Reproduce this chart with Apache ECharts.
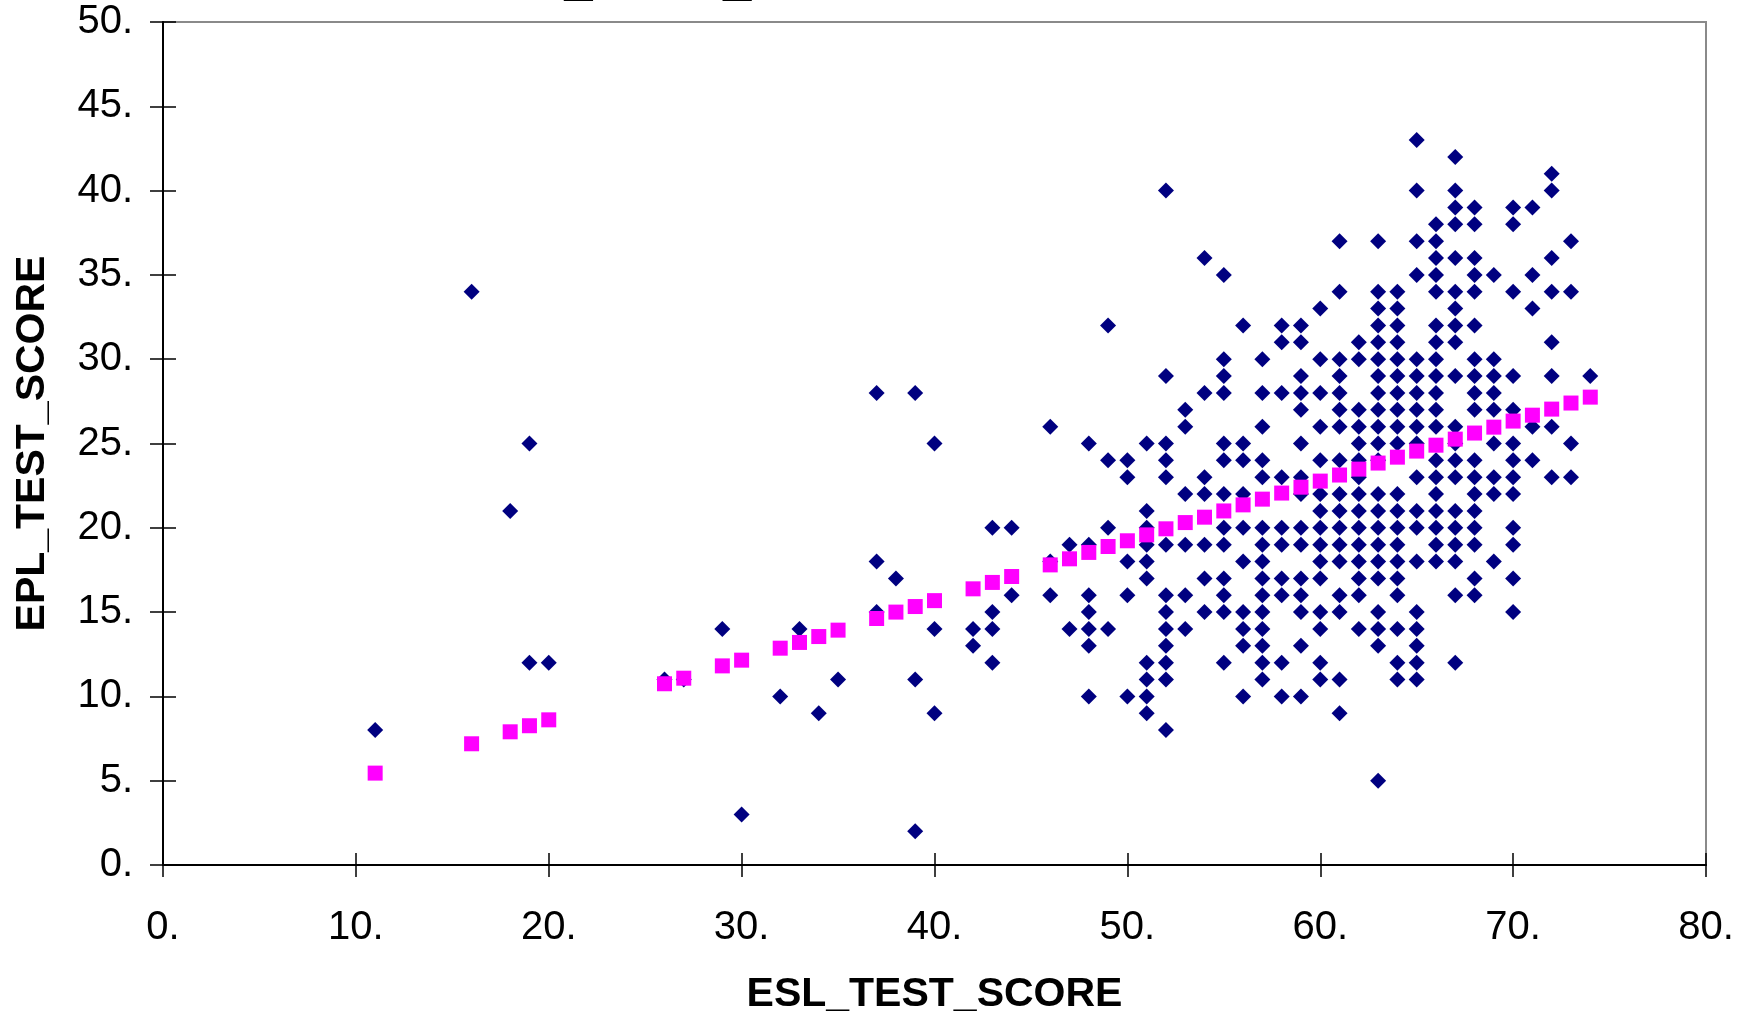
<!DOCTYPE html>
<html>
<head>
<meta charset="utf-8">
<script src="https://cdn.jsdelivr.net/npm/echarts@6/dist/echarts.min.js"></script>
<style>
html,body{margin:0;padding:0;background:#fff;}
#chart{width:1752px;height:1018px;}
</style>
</head>
<body>
<div id="chart"></div>
<script>
// Observed scores: one ESL score per column, with the EPL scores seen at it
var columnEsl = [11,16,18,19,20,26,27,29,30,32,33,34,35,37,38,39,40,42,43,44,46,47,48,49,50,
  51,52,53,54,55,56,57,58,59,60,61,62,63,64,65,66,67,68,69,70,71,72,73,74];
var columnEpl = [
  [8],
  [34],
  [21],
  [25,12],
  [12],
  [11],
  [11],
  [14],
  [3],
  [10],
  [14],
  [9],
  [11],
  [28,18,15],
  [17],
  [28,11,2],
  [25,14,9],
  [14,13],
  [20,15,14,12],
  [20,16],
  [26,18,16],
  [19,14],
  [25,19,16,15,14,13,10],
  [32,24,20,14],
  [24,23,18,16,10],
  [25,21,20,19,18,17,12,11,10,9],
  [40,29,25,24,23,19,16,15,14,13,12,11,8],
  [27,26,22,19,16,14],
  [36,28,23,22,19,17,15],
  [35,30,29,28,25,24,22,20,19,17,16,15,12],
  [32,25,24,22,20,18,15,14,13,10],
  [30,28,26,24,23,20,19,18,17,16,15,14,13,12,11],
  [32,31,28,23,20,19,17,16,12,10],
  [32,31,29,28,27,25,23,22,20,19,17,16,15,13,10],
  [33,30,28,26,24,22,21,20,19,18,17,15,14,12,11],
  [37,34,30,29,28,27,26,24,22,21,20,19,18,16,15,11,9],
  [31,30,27,26,25,24,23,22,21,20,19,18,17,16,14],
  [37,34,33,32,31,30,29,28,27,26,25,24,22,21,20,19,18,17,15,14,13,5],
  [34,33,32,31,30,29,28,27,26,25,22,21,20,19,18,17,16,14,12,11],
  [43,40,37,35,30,29,28,27,26,25,23,21,20,18,15,14,13,12,11],
  [38,37,36,35,34,32,31,30,29,28,27,26,24,23,22,21,20,19,18],
  [42,40,39,38,36,34,33,32,31,29,26,25,24,23,21,20,19,18,16,12],
  [39,38,36,35,34,32,30,29,28,27,24,23,22,21,20,19,17,16],
  [35,30,29,28,27,25,23,22,18],
  [39,38,34,29,27,25,24,23,22,20,19,17,15],
  [39,35,33,26,24],
  [41,40,36,34,31,29,26,23],
  [37,34,25,23],
  [29]
];

// Predicted EPL score at each ESL score
var predictedEsl = [11,16,18,19,20,26,27,29,30,32,33,34,35,37,38,39,40,42,43,44,46,47,48,49,50,
  51,52,53,54,55,56,57,58,59,60,61,62,63,64,65,66,67,68,69,70,71,72,73,74];
var predictedEpl = [5.45,7.19,7.9,8.26,8.61,10.75,11.08,11.81,12.15,12.86,13.2,13.55,13.93,14.62,15.0,15.33,15.68,
  16.38,16.76,17.11,17.8,18.16,18.54,18.89,19.23,19.58,19.94,20.31,20.63,21.0,21.36,21.7,22.06,22.41,22.77,
  23.13,23.48,23.84,24.19,24.55,24.9,25.26,25.62,25.97,26.33,26.68,27.04,27.4,27.75];

// Axis ticks
var xTicks = [0,10,20,30,40,50,60,70,80];
var yTicks = [0,5,10,15,20,25,30,35,40,45,50];

var chartTitle = 'EPL_TEST_SCORE';
var xName = 'ESL_TEST_SCORE';
var yName = 'EPL_TEST_SCORE';

var observed = [];
columnEsl.forEach(function (x, i) {
  columnEpl[i].forEach(function (y) { observed.push([x, y]); });
});
var predicted = predictedEsl.map(function (x, i) { return [x, predictedEpl[i]]; });

var FONT = '"Liberation Sans", Arial, sans-serif';
var chart = echarts.init(document.getElementById('chart'), null, {renderer: 'canvas'});

function fmt(v) { return v + '.'; }

var xBase = {
  type: 'value', min: xTicks[0], max: xTicks[xTicks.length - 1], interval: 10,
  splitLine: {show: false}
};
var yBase = {
  type: 'value', min: yTicks[0], max: yTicks[yTicks.length - 1], interval: 5,
  splitLine: {show: false}
};

chart.setOption({
  animation: false,
  backgroundColor: '#ffffff',
  graphic: [{
    type: 'text', left: 465, top: -45, silent: true,
    style: {text: chartTitle, font: 'bold 51px ' + FONT, fill: '#000000'}
  }],
  grid: {
    left: 163, right: 46, top: 22, bottom: 153,
    show: true, borderColor: '#8a8a8a', borderWidth: 2,
    containLabel: false, outerBoundsMode: 'none'
  },
  xAxis: [
    Object.assign({}, xBase, {
      position: 'bottom',
      name: xName, nameLocation: 'middle', nameGap: 109,
      nameTextStyle: {fontFamily: FONT, fontWeight: 'bold', fontSize: 41, color: '#000'},
      axisLine: {show: true, onZero: false, lineStyle: {color: '#000', width: 2}},
      axisTick: {show: true, inside: false, length: 12, lineStyle: {color: '#000', width: 1.5}},
      axisLabel: {show: true, margin: 43, formatter: fmt, fontFamily: FONT, fontSize: 40, color: '#000'}
    }),
    Object.assign({}, xBase, {
      position: 'bottom',
      axisLine: {show: false, onZero: false},
      axisTick: {show: true, inside: true, length: 12, lineStyle: {color: '#000', width: 1.5}},
      axisLabel: {show: false}
    })
  ],
  yAxis: [
    Object.assign({}, yBase, {
      position: 'left',
      name: yName, nameLocation: 'middle', nameGap: 110, nameRotate: 90,
      nameTextStyle: {fontFamily: FONT, fontWeight: 'bold', fontSize: 41, color: '#000'},
      axisLine: {show: true, onZero: false, lineStyle: {color: '#000', width: 2}},
      axisTick: {show: true, inside: false, length: 13, lineStyle: {color: '#000', width: 1.5}},
      axisLabel: {show: true, margin: 30, formatter: fmt, fontFamily: FONT, fontSize: 40, color: '#000'}
    }),
    Object.assign({}, yBase, {
      position: 'left',
      axisLine: {show: false, onZero: false},
      axisTick: {show: true, inside: true, length: 13, lineStyle: {color: '#000', width: 1.5}},
      axisLabel: {show: false}
    })
  ],
  series: [
    {
      name: 'EPL_TEST_SCORE', type: 'scatter', xAxisIndex: 0, yAxisIndex: 0,
      symbol: 'diamond', symbolSize: 16,
      itemStyle: {color: '#000080', opacity: 1},
      data: observed
    },
    {
      name: 'Predicted EPL_TEST_SCORE', type: 'scatter', xAxisIndex: 0, yAxisIndex: 0,
      symbol: 'rect', symbolSize: 15,
      itemStyle: {color: '#ff00ff', opacity: 1},
      data: predicted
    }
  ]
});
</script>
</body>
</html>
